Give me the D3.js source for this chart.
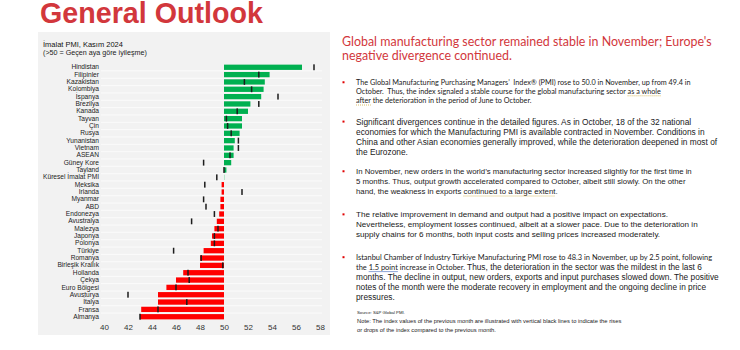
<!DOCTYPE html>
<html>
<head>
<meta charset="utf-8">
<script src="https://cdn.jsdelivr.net/npm/d3@7"></script>
<style>
  body { margin: 0; background: #fff; }
  svg { display: block; }
  svg text { white-space: pre; }
</style>
</head>
<body>
<div id="chart"></div>
<script>
// countries, top to bottom
const countries = ["Hindistan", "Filipinler", "Kazakistan", "Kolombiya", "İspanya", "Brezilya", "Kanada",
  "Tayvan", "Çin", "Rusya", "Yunanistan", "Vietnam", "ASEAN", "Güney Kore", "Tayland",
  "Küresel İmalat PMI", "Meksika", "İrlanda", "Myanmar", "ABD", "Endonezya", "Avustralya",
  "Malezya", "Japonya", "Polonya", "Türkiye", "Romanya", "Birleşik Krallık", "Hollanda",
  "Çekya", "Euro Bölgesi", "Avusturya", "İtalya", "Fransa", "Almanya"];

// Kasım 2024
const pmiNov = [56.5, 53.8, 53.4, 53.3, 53.1, 52.2, 52.0,
  51.5, 51.5, 51.3, 50.9, 50.8, 50.8, 50.6, 50.2,
  50.0, 49.8, 49.8, 49.7, 49.7, 49.6, 49.4,
  49.2, 49.0, 48.9, 48.3, 48.0, 48.0, 46.6,
  46.0, 45.2, 44.5, 44.5, 43.1, 43.0];

// Ekim 2024 (black marks)
const pmiOct = [57.5, 52.9, 51.7, 52.3, 54.5, 52.9, 51.1,
  50.2, 50.3, 50.6, 51.2, 51.2, 50.5, 48.3, 50.0,
  49.4, 48.4, 51.5, 48.3, 48.5, 49.2, 47.3,
  49.5, 49.2, 49.2, 45.8, 48.1, 49.9, 47.0,
  47.1, 46.0, 42.0, 46.9, 44.5, 43.0];

const xTicks = [40, 42, 44, 46, 48, 50, 52, 54, 56, 58];

const pageTitle = "General Outlook";
const chartTitle = "İmalat PMI, Kasım 2024";
const chartSubtitle = "(>50 = Geçen aya göre iyileşme)";

const heading = ["Global manufacturing sector remained stable in November; Europe's",
  "negative divergence continued."];

const bullet1 = ["The Global Manufacturing Purchasing Managers’  Index® (PMI) rose to 50.0 in November, up from 49.4 in",
  "October.  Thus, the index signaled a stable course for the global manufacturing sector as a whole",
  "after the deterioration in the period of June to October."];
const bullet2 = ["Significant divergences continue in the detailed figures. As in October, 18 of the 32 national",
  "economies for which the Manufacturing PMI is available contracted in November. Conditions in",
  "China and other Asian economies generally improved, while the deterioration deepened in most of",
  "the Eurozone."];
const bullet3 = ["In November, new orders in the world’s manufacturing sector increased slightly for the first time in",
  "5 months. Thus, output growth accelerated compared to October, albeit still slowly. On the other",
  "hand, the weakness in exports continued to a large extent."];
const bullet4 = ["The relative improvement in demand and output had a positive impact on expectations.",
  "Nevertheless, employment losses continued, albeit at a slower pace. Due to the deterioration in",
  "supply chains for 6 months, both input costs and selling prices increased moderately."];
const bullet5Small = ["Istanbul Chamber of Industry Türkiye Manufacturing PMI rose to 48.3 in November, up by 2.5 point, following",
  "the 1.5 point increase in October."];
const bullet5Large = [" Thus, the deterioration in the sector was the mildest in the last 6",
  "months. The decline in output, new orders, exports and input purchases slowed down. The positive",
  "notes of the month were the moderate recovery in employment and the ongoing decline in price",
  "pressures."];
const sourceText = "Source: S&P Global PMI.";
const noteLines = ["Note: The index values of the previous month are illustrated with vertical black lines to indicate the rises",
  "or drops of the index compared to the previous month."];

const W = 740, H = 350;
const red = "#d2373c";

const svg = d3.select("#chart").append("svg")
    .attr("width", W)
    .attr("height", H);

// font size that makes text node t (drawn at size fs) `target` px wide
function fitSize(t, fs, target) {
  return fs * target / t.node().getComputedTextLength();
}

// page title
const tt = svg.append("text")
    .attr("x", 40).attr("y", 23)
    .attr("font-family", "Liberation Sans, Arial, sans-serif")
    .attr("font-weight", "bold")
    .attr("font-size", 27)
    .attr("fill", red)
    .text(pageTitle);
tt.attr("font-size", fitSize(tt, 27, 223));

// ---------- chart ----------
svg.append("rect")
    .attr("x", 38).attr("y", 32)
    .attr("width", 292).attr("height", 303)
    .attr("fill", "#f2f2f2");

const chartFont = "Liberation Sans, Arial, sans-serif";

const ct = svg.append("text")
    .attr("x", 43).attr("y", 46.5)
    .attr("font-family", chartFont).attr("font-size", 9.5)
    .attr("fill", "#111")
    .text(chartTitle);
ct.attr("font-size", fitSize(ct, 9.5, 80));

const cs = svg.append("text")
    .attr("x", 43).attr("y", 54.5)
    .attr("font-family", chartFont).attr("font-size", 6.5)
    .attr("fill", "#222")
    .text(chartSubtitle);
cs.attr("font-size", fitSize(cs, 6.5, 104));

const x = d3.scaleLinear().domain([40, 58]).range([104, 320]);
const y = d3.scaleBand().domain(countries).range([63.6, 320.4]).paddingInner(0.28).paddingOuter(0.14);

// row separators
svg.append("g")
  .selectAll("line")
  .data(countries.slice(1))
  .join("line")
    .attr("x1", 101).attr("x2", 322)
    .attr("y1", d => y(d) - y.step() * y.paddingInner() / 2)
    .attr("y2", d => y(d) - y.step() * y.paddingInner() / 2)
    .attr("stroke", "#fbfbfb")
    .attr("stroke-width", 1);

const rows = countries.map((c, i) => ({c, now: pmiNov[i], prev: pmiOct[i]}));

svg.append("g")
  .selectAll("rect")
  .data(rows)
  .join("rect")
    .attr("x", d => x(Math.min(50, d.now)))
    .attr("y", d => y(d.c))
    .attr("width", d => Math.max(Math.abs(x(d.now) - x(50)), 1))
    .attr("height", y.bandwidth())
    .attr("fill", d => d.c === "Küresel İmalat PMI" ? "#b6e6c8" : d.now >= 50 ? "#00b050" : "#ff0000");

svg.append("g")
  .selectAll("rect")
  .data(rows)
  .join("rect")
    .attr("x", d => x(d.prev) - 0.75)
    .attr("y", d => y(d.c) - 0.3)
    .attr("width", 1.5)
    .attr("height", y.bandwidth() + 0.6)
    .attr("fill", "#1c1c1c");

const yAxis = svg.append("g")
    .attr("transform", "translate(101,0)")
    .call(d3.axisLeft(y).tickSize(0).tickPadding(2));
yAxis.select(".domain").remove();
yAxis.selectAll("text")
    .attr("font-family", chartFont)
    .attr("font-size", 6.8)
    .attr("fill", "#222");
const lbl = yAxis.selectAll("text").filter(d => d === "Küresel İmalat PMI");
yAxis.selectAll("text").attr("font-size", fitSize(lbl, 6.8, 56));

const xAxis = svg.append("g")
    .attr("transform", "translate(0,320)")
    .call(d3.axisBottom(x).tickValues(xTicks).tickSize(0).tickPadding(4));
xAxis.select(".domain").remove();
xAxis.selectAll("text")
    .attr("font-family", chartFont)
    .attr("font-size", 8)
    .attr("fill", "#333");

// ---------- text column ----------
const bodyX = 356;

const hd = svg.append("g")
    .attr("font-family", "Lato, Open Sans, sans-serif")
    .attr("font-size", 12.5)
    .attr("fill", red);
hd.selectAll("text").data(heading).join("text")
    .attr("x", 342)
    .attr("y", (d, i) => 45.5 + i * 14.5)
    .text(d => d);
hd.attr("font-size", fitSize(hd.select("text"), 12.5, 370));

function bulletMark(yc) {
  svg.append("rect")
      .attr("x", 342.5).attr("y", yc - 1)
      .attr("width", 2).attr("height", 2)
      .attr("fill", "#e00000");
}

// underline part of a text line (spellcheck / link marks)
function underline(node, part, color, dash) {
  const s = node.textContent;
  const i = s.indexOf(part);
  const n = node.getNumberOfChars();
  if (i < 0 || i + part.length > n) return;
  const x0 = node.getStartPositionOfChar(i).x;
  const x1 = node.getEndPositionOfChar(i + part.length - 1).x;
  const yy = +node.getAttribute("y") + 1.8;
  svg.append("line")
      .attr("x1", x0).attr("x2", x1)
      .attr("y1", yy).attr("y2", yy)
      .attr("stroke", color)
      .attr("stroke-width", 0.7)
      .attr("stroke-dasharray", dash);
}

function block(lines, y0, lh, target, family) {
  const g = svg.append("g")
      .attr("font-family", family)
      .attr("font-size", 8)
      .attr("fill", "#1a1a1a");
  g.selectAll("text").data(lines).join("text")
      .attr("x", bodyX)
      .attr("y", (d, i) => y0 + i * lh)
      .text(d => d);
  const fs = fitSize(g.select("text"), 8, target);
  g.attr("font-size", fs);
  bulletMark(y0 - fs * 0.35);
  return g;
}

const sans = "Liberation Sans, Arial, sans-serif";
const humanist = "Lato, Open Sans, sans-serif";
const g1 = block(bullet1, 84.8, 9.2, 335, humanist);
block(bullet2, 124.5, 10.2, 336, sans);
const g3 = block(bullet3, 174, 10.1, 336, sans);
block(bullet4, 217.2, 10, 312, sans);

// last bullet: two font sizes
const b5 = svg.append("g").attr("fill", "#1a1a1a");
const b5a = b5.append("text")
    .attr("x", bodyX).attr("y", 259.8)
    .attr("font-family", humanist)
    .attr("font-size", 7)
    .text(bullet5Small[0]);
const smallSize = fitSize(b5a, 7, 357);
b5a.attr("font-size", smallSize);
bulletMark(259.8 - smallSize * 0.35);
const ref = b5.append("text")
    .attr("x", bodyX).attr("y", 279.8)
    .attr("font-family", sans)
    .attr("font-size", 8)
    .text(bullet5Large[1]);
const largeSize = fitSize(ref, 8, 363);
ref.attr("font-size", largeSize);
const l2 = b5.append("text")
    .attr("x", bodyX).attr("y", 269.8);
l2.append("tspan")
    .attr("font-family", humanist)
    .attr("font-size", smallSize)
    .text(bullet5Small[1]);
l2.append("tspan")
    .attr("font-family", sans)
    .attr("font-size", largeSize)
    .text(bullet5Large[0]);
b5.selectAll(null).data(bullet5Large.slice(2)).join("text")
    .attr("x", bodyX)
    .attr("y", (d, i) => 289.8 + i * 10)
    .attr("font-family", sans)
    .attr("font-size", largeSize)
    .text(d => d);

const src = svg.append("text")
    .attr("x", 357).attr("y", 313.8)
    .attr("font-family", sans).attr("font-size", 5.5)
    .attr("fill", "#222")
    .text(sourceText);
src.attr("font-size", fitSize(src, 5.5, 48));

const nt = svg.append("g")
    .attr("font-family", sans).attr("font-size", 5.5)
    .attr("fill", "#222");
nt.selectAll("text").data(noteLines).join("text")
    .attr("x", 357)
    .attr("y", (d, i) => 323 + i * 8.5)
    .text(d => d);
nt.attr("font-size", fitSize(nt.select("text"), 5.5, 265));

// marks drawn last so a failure cannot hide any text
underline(g1.selectAll("text").nodes()[1], "as a whole", "#c9a227", "1,1");
underline(g1.selectAll("text").nodes()[2], "after", "#c9a227", "1,1");
underline(g3.selectAll("text").nodes()[2], "continued to a large extent", "#c9a227", "1,1");
underline(l2.node(), "1.5 point", "#5b7fc7", null);
</script>
</body>
</html>
